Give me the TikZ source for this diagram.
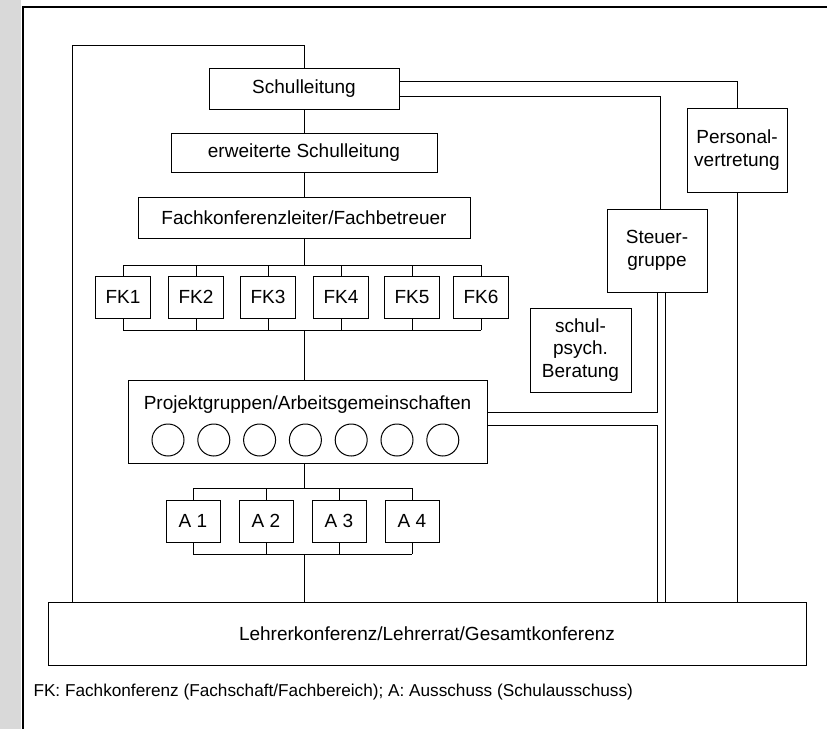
\documentclass[tikz,border=0pt]{standalone}
\usepackage{fontspec}
\setmainfont{Liberation Sans}
\usepackage{tikz}

\newcommand{\mainfnt}{\fontsize{9.5}{11.4}\selectfont}
\newcommand{\notefnt}{\fontsize{8.6}{10}\selectfont}

\tikzset{
  orgbox/.style={draw, line width=0.5pt, inner sep=0pt, align=center, font=\mainfnt},
  smallbox/.style={orgbox, minimum width=27.5pt, minimum height=21pt},
  pgcircle/.style={draw, circle, line width=0.5pt, minimum size=16pt, inner sep=0pt},
}

\begin{document}
\begin{tikzpicture}[x=0.5pt, y=-0.5pt, line width=0.5pt]
      \useasboundingbox (0,0) rectangle (827,729);

      % scan edge
      \fill [gray!30] (0,0) rectangle (21,729);
      \draw [line width=1pt] (23,729) -- (23,7) -- (827,7);

      % main column
      \node [orgbox, minimum width=95pt, minimum height=20.5pt] (sl) at (304,88.5) {Schulleitung};
      \node [orgbox, minimum width=133pt, minimum height=19.5pt] (esl) at (304,152.5) {erweiterte Schulleitung};
      \node [orgbox, minimum width=166pt, minimum height=20.5pt] (fkl) at (304,217.5) {Fachkonferenzleiter/Fachbetreuer};

      \foreach \x [count=\i] in {123,196,268,341,412,481}
      \node [smallbox] (fk\i) at (\x,297) {FK\i};

      \node [orgbox, minimum width=179.5pt, minimum height=41.5pt] (pag) at (307.5,421.5) {};
      \node [font=\mainfnt, inner sep=0pt] (pagt) at (307.5,405) {Projektgruppen/Arbeitsgemeinschaften};
      \foreach \i in {1,...,7}
      \node [pgcircle] (pg\i) at ({168+45.8*(\i-1)},440) {};

      \foreach \x [count=\i] in {193,266,339,412}
      \node [smallbox, minimum width=27pt] (a\i) at (\x,521) {A \i};

      \node [orgbox, minimum width=379pt, minimum height=31.5pt] (lk) at (427,633.5) {Lehrerkonferenz/Lehrerrat/Gesamtkonferenz};

      % side boxes
      \node [orgbox, minimum width=50pt, minimum height=42pt] (pv) at (737,150) {Personal-\\vertretung};
      \node [orgbox, minimum width=50pt, minimum height=41.5pt] (stg) at (657,250.5) {Steuer-\\gruppe};
      \node [orgbox, minimum width=50.5pt, minimum height=42pt] (spb) at (580.5,350) {schul-\\psych.\\Beratung};

      \node [anchor=west, inner sep=0pt, font=\notefnt] (note) at (33,692)
      {FK: Fachkonferenz (Fachschaft/Fachbereich); A: Ausschuss (Schulausschuss)};

      % bus lines
      \coordinate (fkbusT) at (0,265);
      \coordinate (fkbusB) at (0,330);
      \coordinate (abusT) at (0,488);
      \coordinate (abusB) at (0,554);

      \draw (fk1.north |- fkbusT) -- (fk6.north |- fkbusT)
            (fk1.south |- fkbusB) -- (fk6.south |- fkbusB);
      \foreach \i in {1,...,6}
      \draw (fk\i.north) -- (fk\i.north |- fkbusT) (fk\i.south) -- (fk\i.south |- fkbusB);

      \draw (a1.north |- abusT) -- (a4.north |- abusT)
            (a1.south |- abusB) -- (a4.south |- abusB);
      \foreach \i in {1,...,4}
      \draw (a\i.north) -- (a\i.north |- abusT) (a\i.south) -- (a\i.south |- abusB);

      % spine
      \draw (sl) -- (esl) -- (fkl);
      \draw (fkl.south) -- (fkl.south |- fkbusT);
      \draw (fkl.south |- fkbusB) -- (fkl.south |- pag.north);
      \draw (fkl.south |- pag.south) -- (fkl.south |- abusT);
      \draw (fkl.south |- abusB) -- (fkl.south |- lk.north);

      % left loop
      \coordinate (loopL) at (72,45);
      \draw (sl.north) |- (loopL) -- (loopL |- lk.north);

      % right side
      \coordinate (pvT) at (0,81);
      \coordinate (stT) at (0,96);
      \draw (sl.east |- pvT) -| (pv.north);
      \draw (sl.east |- stT) -| ([xshift=1.5pt]stg.north);
      \draw (pv.south) -- (pv.south |- lk.north);
      \draw ([xshift=4pt]stg.south) -- ([xshift=4pt]stg.south |- lk.north);
      \draw ([yshift=4.75pt]pag.east) -| (stg.south);
      \draw ([yshift=-1.75pt]pag.east) -| (stg.south |- lk.north);

    \end{tikzpicture}
\end{document}
